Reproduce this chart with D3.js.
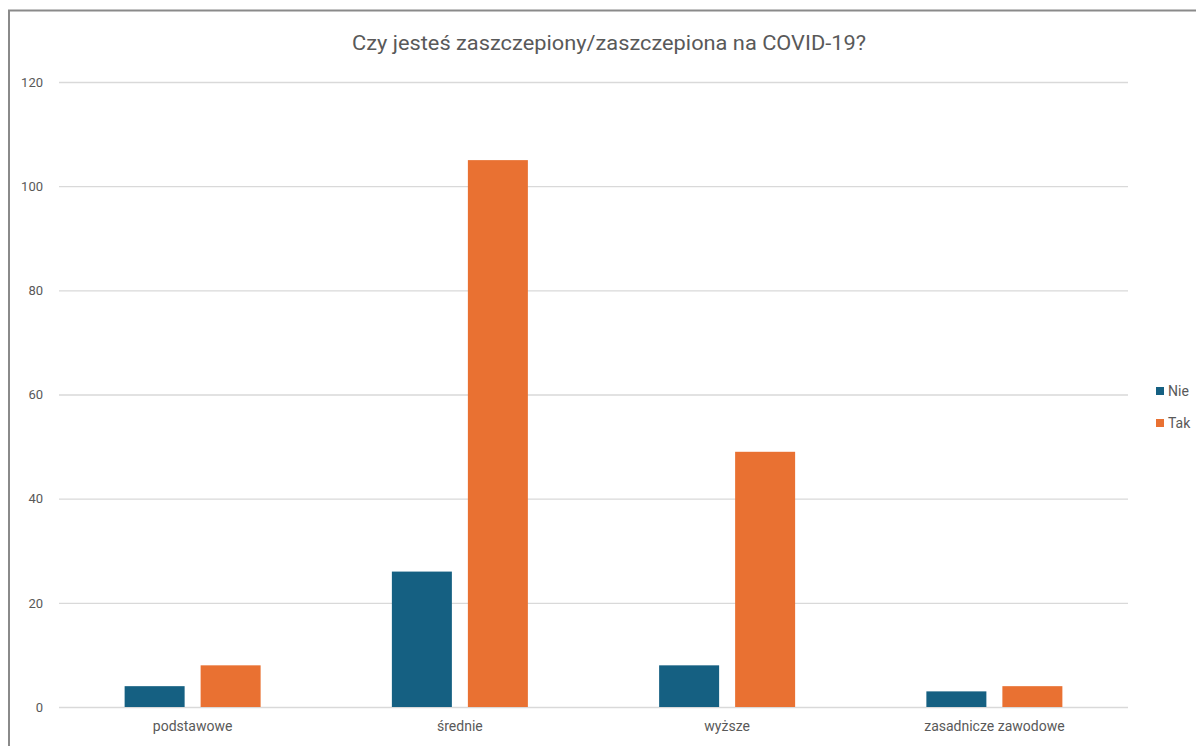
<!DOCTYPE html>
<html><head><meta charset="utf-8">
<script src="https://cdn.jsdelivr.net/npm/d3@7"></script>
<style>body{margin:0;background:#fff;} svg{display:block;}</style>
</head><body>
<svg id="c" width="1196" height="746"></svg>
<script>
const categories = ["podstawowe", "średnie", "wyższe", "zasadnicze zawodowe"];
const seriesNames = ["Nie", "Tak"];
const nieValues = [4, 26, 8, 3];
const takValues = [8, 105, 49, 4];
const yTicks = [0, 20, 40, 60, 80, 100, 120];
const colors = ["#156082", "#E97132"];
const title = "Czy jesteś zaszczepiony/zaszczepiona na COVID-19?";

(function () {
const svg = d3.select("#c");
const font = "Roboto, 'Liberation Sans', sans-serif";
const textColor = "#595959";

// frame
svg.append("rect").attr("x", 9).attr("y", 10.5).attr("width", 1200).attr("height", 800)
  .attr("fill", "none").attr("stroke", "#8a8a8a").attr("stroke-width", 2);

const pLeft = 59, pRight = 1128, pTop = 82, pBottom = 707;
const x0 = d3.scaleBand().domain(categories).range([pLeft, pRight]).paddingInner(0).paddingOuter(0);
const y = d3.scaleLinear().domain([0, 120]).range([pBottom, pTop]);

// gridlines
const yAxis = d3.axisLeft(y).tickValues(yTicks).tickSize(-(pRight - pLeft)).tickFormat(d3.format("d"));
const gy = svg.append("g").attr("transform", `translate(${pLeft},0)`).call(yAxis);
gy.select(".domain").remove();
gy.selectAll(".tick line").attr("stroke", "#d9d9d9").attr("stroke-width", 1.3);
gy.selectAll(".tick text").attr("x", -16).attr("fill", textColor)
  .style("font-family", font).style("font-size", "13px");

// bars
const barW = 60, gap = 16;
const groupW = barW * 2 + gap;
const data = categories.map((c, i) => ({cat: c, vals: [nieValues[i], takValues[i]]}));
const groups = svg.append("g").selectAll("g").data(data).join("g")
  .attr("transform", d => `translate(${x0(d.cat) + (x0.bandwidth() - groupW) / 2},0)`);
groups.selectAll("rect").data(d => d.vals.map((v, j) => ({s: seriesNames[j], v, j})))
  .join("rect")
  .attr("x", d => d.j * (barW + gap))
  .attr("width", barW)
  .attr("y", d => y(d.v))
  .attr("height", d => y(0) - y(d.v))
  .attr("fill", d => colors[d.j]);

// x axis labels
const xAxis = d3.axisBottom(x0).tickSize(0).tickPadding(14);
const gx = svg.append("g").attr("transform", `translate(0,${pBottom})`).call(xAxis);
gx.select(".domain").remove();
gx.selectAll(".tick text").attr("fill", textColor).style("font-family", font).style("font-size", "14px");

// title
svg.append("text").attr("x", 609).attr("y", 50).attr("text-anchor", "middle")
  .attr("fill", textColor).style("font-family", font).style("font-size", "21px")
  .attr("textLength", 514).attr("lengthAdjust", "spacingAndGlyphs")
  .text(title);

// legend
const leg = svg.append("g").attr("transform", "translate(1156,391)");
seriesNames.forEach((s, i) => {
  const g = leg.append("g").attr("transform", `translate(0,${i * 32})`);
  g.append("rect").attr("x", 0).attr("y", -4).attr("width", 8).attr("height", 8).attr("fill", colors[i]);
  g.append("text").attr("x", 12).attr("y", 5).attr("fill", textColor)
    .style("font-family", font).style("font-size", "14px").text(s);
});
})();
</script>
</body></html>
